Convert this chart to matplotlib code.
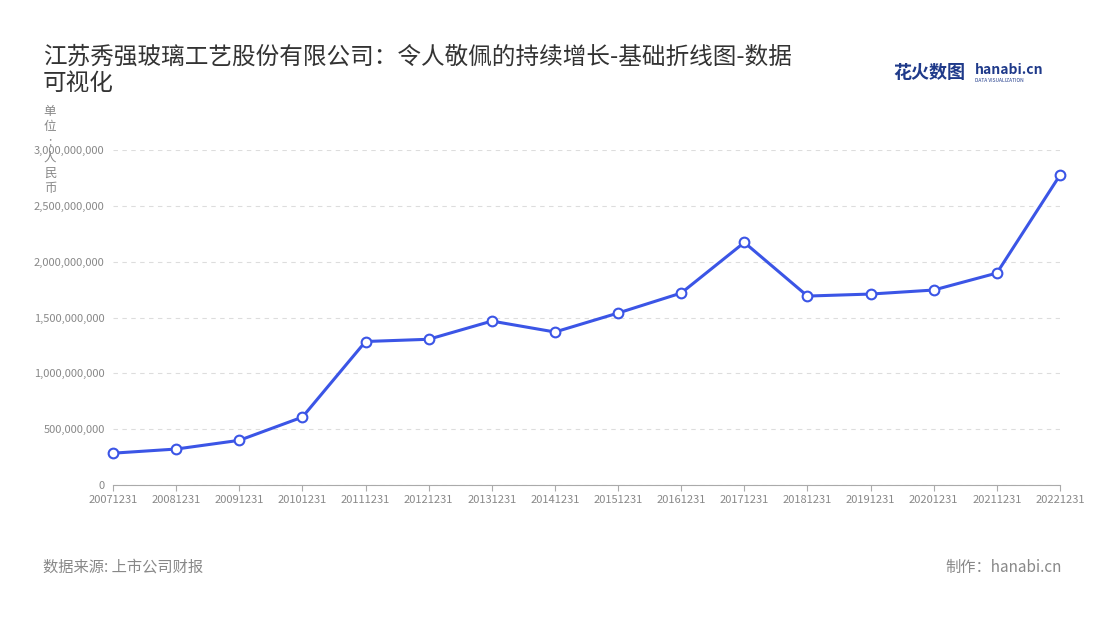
import matplotlib
matplotlib.use("Agg")
import matplotlib.pyplot as plt
from matplotlib.ticker import FuncFormatter

plt.rcParams['font.family'] = ['Noto Sans CJK SC', 'DejaVu Sans']

years = ["20071231","20081231","20091231","20101231","20111231","20121231","20131231","20141231",
         "20151231","20161231","20171231","20181231","20191231","20201231","20211231","20221231"]
values = [285e6, 322e6, 400e6, 608e6, 1285e6, 1305e6, 1468e6, 1370e6,
          1540e6, 1719e6, 2172e6, 1692e6, 1710e6, 1746e6, 1898e6, 2775e6]

fig = plt.figure(figsize=(11, 6.2), dpi=100)
ax = fig.add_axes([113/1100, 1-485/620, (1060-113)/1100, (485-150)/620])
x = list(range(len(years)))
ax.plot(x, values, color='#3b55e6', lw=2.2, marker='o', ms=7, mfc='white', mec='#3b55e6', mew=1.5, zorder=3, clip_on=False)
ax.set_xlim(0, len(years)-1)
ax.set_ylim(0, 3e9)
ax.set_yticks([i*5e8 for i in range(7)])
ax.yaxis.set_major_formatter(FuncFormatter(lambda v, p: f"{int(v):,}"))
ax.set_xticks(x)
ax.set_xticklabels(years)
ax.tick_params(axis='both', labelsize=8, colors='#888888', length=4)
ax.tick_params(axis='y', length=0, pad=6)
ax.grid(axis='y', ls=(0, (4, 4)), color='#dddddd', lw=0.8)
for s in ['top', 'right', 'left']:
    ax.spines[s].set_visible(False)
ax.spines['bottom'].set_color('#aaaaaa')
ax.tick_params(axis='x', color='#aaaaaa')

fig.text(43/1100, 1-70/620, "江苏秀强玻璃工艺股份有限公司：令人敬佩的持续增长-基础折线图-数据\n可视化",
         fontsize=17, color='#333333', va='center', linespacing=1.2)
fig.text(50/1100, 1-150/620, "单\n位\n:\n人\n民\n币", fontsize=9, color='#888888', ha='center', va='center', linespacing=1.25)
fig.text(893/1100, 1-72/620, "花火数图", fontsize=13, color='#1f3a8a', fontweight='bold', va='center')
fig.text(975/1100, 1-70/620, "hanabi.cn", fontsize=10, color='#1f3a8a', fontweight='bold', va='center')
fig.text(975/1100, 1-80/620, "DATA VISUALIZATION", fontsize=3.5, color='#1f3a8a', va='center')
fig.text(43/1100, 1-567/620, "数据来源: 上市公司财报", fontsize=11, color='#888888', va='center')
fig.text(1062/1100, 1-567/620, "制作：hanabi.cn", fontsize=11, color='#888888', va='center', ha='right')
fig.savefig("out.png", dpi=100, facecolor='white')
